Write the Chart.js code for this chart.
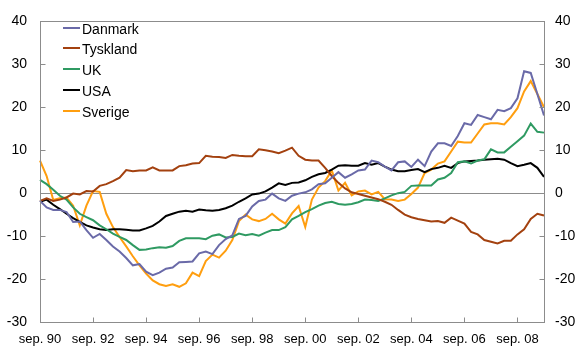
<!DOCTYPE html>
<html>
<head>
<meta charset="utf-8">
<script src="https://cdn.jsdelivr.net/npm/chart.js@4/dist/chart.umd.min.js"></script>
<style>
  html, body { margin: 0; padding: 0; background: #fff; }
</style>
</head>
<body>
<canvas id="myChart" width="576" height="348"></canvas>
<script>
// quarterly observations, sep. 1990 - sep. 2009
const months = ["mar.", "jun.", "sep.", "dec."];
const firstYear = 1990;
const firstQuarter = 2; // sep.
const numQuarters = 77;

const labels = [];
for (let i = 0; i < numQuarters; i++) {
  const q = firstQuarter + i;
  const yr = (firstYear + Math.floor(q / 4)) % 100;
  labels.push(months[q % 4] + " " + String(yr).padStart(2, "0"));
}

const danmark = [
  -1.8, -3.3, -3.9, -3.9, -4.4, -6.7, -6.6, -8.6, -10.4, -9.5,
  -10.9, -12.4, -13.6, -15.1, -16.8, -16.5, -18.3, -19.1, -18.5, -17.6,
  -17.3, -16.1, -16.0, -15.9, -14.0, -13.6, -14.2, -12.1, -10.7, -9.8,
  -6.0, -5.3, -3.1, -1.8, -1.5, -0.1, -1.2, -1.8, -0.6, -0.1,
  0.2, 0.9, 2.1, 2.3, 3.6, 4.9, 3.6, 4.4, 5.3, 5.5,
  7.6, 7.2, 6.2, 5.3, 7.2, 7.4, 6.1, 7.8, 6.3, 9.7,
  11.6, 11.6, 11.0, 13.3, 16.3, 15.9, 18.2, 17.7, 17.2, 19.4,
  19.1, 19.8, 22.1, 28.4, 28.0, 23.1, 18.1
];
const tyskland = [
  -1.8, -1.2, -1.8, -1.5, -1.0, -0.1, -0.3, 0.5, 0.4, 1.7,
  2.1, 2.8, 3.6, 5.4, 5.1, 5.3, 5.3, 6.0, 5.3, 5.3,
  5.3, 6.3, 6.5, 6.9, 7.0, 8.7, 8.5, 8.4, 8.2, 8.9,
  8.7, 8.6, 8.6, 10.2, 10.0, 9.7, 9.3, 9.9, 10.6, 8.7,
  7.8, 7.6, 7.6, 5.9, 4.0, 2.4, 1.1, 0.2, -0.2, -0.6,
  -1.0, -1.4, -2.0, -2.7, -3.9, -5.0, -5.6, -6.0, -6.3, -6.6,
  -6.5, -6.9, -5.7, -6.4, -7.1, -9.0, -9.6, -10.9, -11.3, -11.7,
  -11.1, -11.1, -9.6, -8.4, -6.0, -4.8, -5.2
];
const uk = [
  3.1, 2.1, 0.8, -0.6, -1.5, -3.3, -4.8, -5.6, -6.3, -7.5,
  -8.4, -9.4, -10.2, -10.9, -12.1, -13.2, -13.1, -12.8, -12.6, -12.7,
  -12.3, -11.1, -10.5, -10.5, -10.5, -10.7, -9.9, -9.6, -10.3, -10.2,
  -9.4, -9.8, -9.5, -9.9, -9.2, -8.6, -8.6, -7.9, -6.1, -5.3,
  -4.4, -3.7, -2.9, -2.3, -2.0, -2.5, -2.7, -2.5, -2.1, -1.5,
  -1.6, -1.8, -1.2, -0.5, 0.0, 0.3, 1.7, 1.8, 1.8, 1.8,
  3.2, 3.6, 4.7, 7.2, 7.4, 6.9, 7.6, 7.9, 10.2, 9.5,
  9.5, 10.8, 12.1, 13.4, 16.2, 14.3, 14.1
];
const usa = [
  -2.0, -1.5, -2.7, -3.7, -4.8, -5.8, -6.7, -7.5, -8.0, -8.4,
  -8.6, -8.4, -8.4, -8.5, -8.7, -8.7, -8.2, -7.6, -6.6, -5.3,
  -4.8, -4.3, -4.1, -4.3, -3.8, -4.0, -4.1, -3.9, -3.5, -2.9,
  -2.0, -1.2, -0.3, -0.1, 0.4, 1.3, 2.3, 1.9, 2.4, 2.5,
  3.0, 3.8, 4.4, 4.7, 5.5, 6.4, 6.5, 6.4, 6.4, 7.0,
  6.6, 7.0, 6.2, 5.5, 5.1, 5.1, 5.4, 5.6, 4.9, 5.6,
  5.9, 6.4, 5.9, 7.0, 7.4, 7.5, 7.6, 7.8, 7.9, 8.0,
  7.8, 7.0, 6.3, 6.6, 7.0, 5.9, 3.8
];
const sverige = [
  7.6, 4.0, -1.6, -1.2, -1.0, -2.9, -7.5, -2.9, 0.5, 0.3,
  -4.8, -7.9, -10.2, -12.4, -14.7, -16.8, -18.7, -20.3, -21.2, -21.6,
  -21.2, -21.8, -21.0, -18.5, -19.3, -15.8, -14.3, -15.0, -13.4, -10.9,
  -6.5, -5.0, -6.1, -6.5, -6.0, -4.8, -6.1, -7.1, -4.7, -3.0,
  -7.9, -1.5, 1.3, 2.8, 5.3, 0.6, 2.4, -0.5, 0.4, 0.6,
  -0.3, 0.3, -1.4, -1.5, -1.8, -1.5, -0.2, 1.3, 4.7, 5.5,
  6.9, 7.4, 9.7, 12.0, 11.8, 11.8, 13.9, 16.0, 16.3, 16.3,
  16.0, 17.7, 19.8, 23.7, 26.1, 23.1, 20.0
];

const seriesNames = ["Danmark", "Tyskland", "UK", "USA", "Sverige"];
const seriesData = [danmark, tyskland, uk, usa, sverige];
const seriesColors = ["#6a6aa8", "#a3410f", "#2f9a62", "#000000", "#ff9e0f"];

const yTicks = [-30, -20, -10, 0, 10, 20, 30, 40];
const labelEvery = 8;

const axisGrey = "#8c8c8c";
const fontFamily = "'Liberation Sans', Arial, sans-serif";
Chart.defaults.font.family = fontFamily;
Chart.defaults.color = "#000";

// frame, zero line and short inward tick marks
const framePlugin = {
  id: "frame",
  beforeDatasetsDraw(chart) {
    const { ctx, chartArea: a, scales } = chart;
    const y0 = Math.round(scales.y.getPixelForValue(0)) + 0.5;
    ctx.save();
    ctx.strokeStyle = axisGrey;
    ctx.lineWidth = 1;
    ctx.beginPath();
    ctx.moveTo(a.left, y0);
    ctx.lineTo(a.right, y0);
    ctx.stroke();
    ctx.restore();
  },
  afterDraw(chart) {
    const { ctx, chartArea: a, scales } = chart;
    const L = Math.round(a.left) + 0.5, R = Math.round(a.right) + 0.5;
    const T = Math.round(a.top) + 0.5, B = Math.round(a.bottom) + 0.5;
    ctx.save();
    ctx.strokeStyle = axisGrey;
    ctx.lineWidth = 1;
    ctx.strokeRect(L, T, R - L, B - T);
    ctx.beginPath();
    yTicks.forEach((v) => {
      const py = Math.round(scales.y.getPixelForValue(v)) + 0.5;
      ctx.moveTo(L, py); ctx.lineTo(L + 5, py);
      ctx.moveTo(R, py); ctx.lineTo(R - 5, py);
    });
    labels.forEach((lab, i) => {
      if (i === 0 || i % labelEvery !== 0) return;
      const px = Math.round(scales.x.getPixelForValue(i)) + 0.5;
      ctx.moveTo(px, B); ctx.lineTo(px, B - 5);
    });
    ctx.stroke();
    ctx.restore();
  },
};

// legend drawn inside the plot, top left
const legendPlugin = {
  id: "innerLegend",
  afterDraw(chart) {
    const { ctx } = chart;
    ctx.save();
    ctx.font = "14px " + fontFamily;
    ctx.textBaseline = "alphabetic";
    ctx.textAlign = "left";
    chart.data.datasets.forEach((ds, i) => {
      const base = 33.5 + i * 20.8;
      const ly = Math.round(base - 6);
      ctx.fillStyle = ds.borderColor;
      ctx.fillRect(63, ly - 1, 17, 2);
      ctx.fillStyle = "#000";
      ctx.fillText(ds.label, 82, base);
    });
    ctx.restore();
  },
};

const data = {
  labels: labels,
  datasets: seriesNames.map((name, i) => ({
    label: name,
    data: seriesData[i],
    borderColor: seriesColors[i],
    backgroundColor: seriesColors[i],
    borderWidth: 2,
    pointRadius: 0,
    tension: 0,
    yAxisID: "y",
  })),
};

const config = {
  type: "line",
  data: data,
  options: {
    responsive: false,
    animation: false,
    devicePixelRatio: 1,
    layout: { padding: { top: 16, left: 0, right: 0, bottom: 0 } },
    plugins: {
      legend: { display: false },
      tooltip: { enabled: false },
    },
    scales: {
      x: {
        type: "category",
        offset: false,
        grid: { display: false, drawTicks: false },
        border: { display: false },
        ticks: {
          autoSkip: false,
          maxRotation: 0,
          minRotation: 0,
          padding: 10,
          font: { size: 13 },
          callback: (v, i) => (i % labelEvery === 0 ? labels[i] : ""),
        },
        afterFit: (s) => { s.height = 26; },
      },
      y: {
        position: "left",
        min: -30,
        max: 40,
        grid: { display: false, drawTicks: false },
        border: { display: false },
        ticks: { stepSize: 10, padding: 13, font: { size: 14 } },
        afterFit: (s) => { s.width = 40; },
      },
      y2: {
        position: "right",
        min: -30,
        max: 40,
        grid: { display: false, drawTicks: false },
        border: { display: false },
        ticks: { stepSize: 10, padding: 11, font: { size: 14 } },
        afterFit: (s) => { s.width = 32; },
      },
    },
  },
  plugins: [framePlugin, legendPlugin],
};

const ctx1 = document.getElementById("myChart");
const chart1 = new Chart(ctx1, config);
</script>
</body>
</html>
